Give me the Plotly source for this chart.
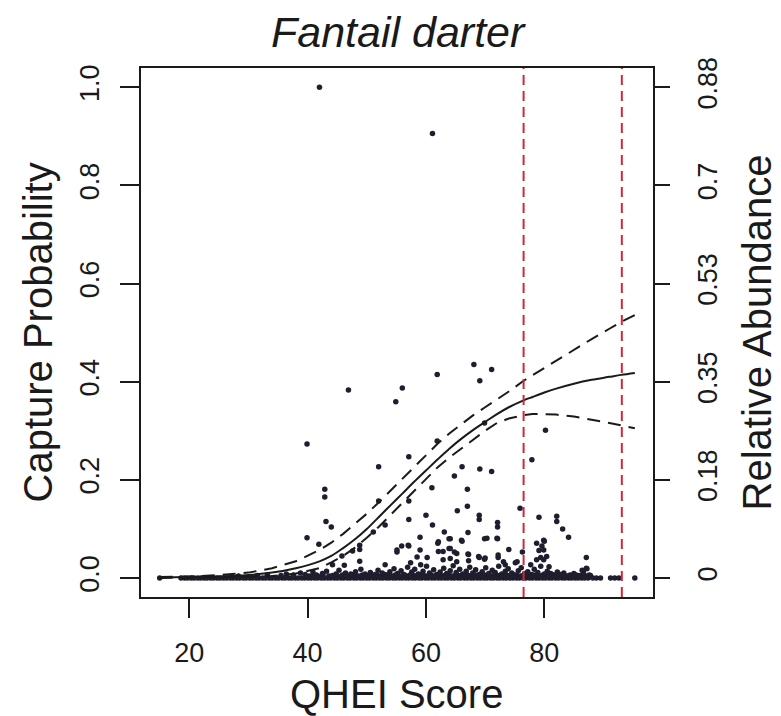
import plotly.graph_objects as go

# ---------------- data ----------------
title_text = "Fantail darter"
x_ticks = [20, 40, 60, 80]
y_ticks = [0.0, 0.2, 0.4, 0.6, 0.8, 1.0]
y_tick_labels = ["0.0", "0.2", "0.4", "0.6", "0.8", "1.0"]
ra_tick_labels = ["0", "0.18", "0.35", "0.53", "0.7", "0.88"]
threshold_lines = [76.5, 93.1]

# sites with zero abundance (baseline)
zero_x = [15.0, 18.6, 19.2, 19.7, 20.3, 20.8, 21.4, 21.9, 22.5, 23.0, 23.6, 24.1, 24.7,
          25.2, 25.8, 26.3, 26.9, 27.4, 28.0, 28.5, 29.1, 29.6, 30.2, 30.7, 31.3, 31.8,
          32.4, 32.9, 33.5, 34.0, 34.6, 35.1, 35.7, 36.2, 36.8, 37.3, 37.9, 38.4, 39.0,
          39.5, 40.1, 40.6, 41.2, 41.7, 42.3, 42.8, 43.4, 43.9, 44.5, 45.0, 45.6, 46.1,
          46.7, 47.2, 47.8, 48.3, 48.9, 49.4, 50.0, 50.5, 51.1, 51.6, 52.2, 52.7, 53.3,
          53.8, 54.4, 54.9, 55.5, 56.0, 56.6, 57.1, 57.7, 58.2, 58.8, 59.3, 59.9, 60.4,
          61.0, 61.5, 62.1, 62.6, 63.2, 63.7, 64.3, 64.8, 65.4, 65.9, 66.5, 67.0, 67.6,
          68.1, 68.7, 69.2, 69.8, 70.3, 70.9, 71.4, 72.0, 72.5, 73.1, 73.6, 74.2, 74.7,
          75.3, 75.8, 76.4, 76.9, 77.5, 78.0, 78.6, 79.1, 79.7, 80.2, 80.8, 81.3, 81.9,
          82.4, 83.0, 83.5, 84.1, 84.6, 85.2, 85.7, 86.3, 86.8, 87.4, 88.2, 88.8, 89.5,
          91.2, 91.9, 92.6, 95.3]

# sites with non-zero abundance (plotted on the capture-probability scale)
pt_x = [42.0, 61.1, 46.9, 56.0, 54.9, 39.9, 61.9, 68.1, 71.1, 69.1, 69.9, 80.2, 77.9,
        61.9, 57.1, 52.0, 42.9, 42.9, 43.1, 44.0, 39.9, 41.9, 64.8, 66.1, 69.1, 71.1,
        61.0, 67.0, 52.0, 57.1, 67.0, 65.3, 75.9, 79.1, 82.1, 82.1, 83.1, 84.1, 87.1,
        60.0, 61.1, 57.1, 53.1, 51.1, 63.1, 69.0, 69.0, 72.1, 72.1, 67.1, 59.0, 63.9,
        66.1, 69.9, 72.1, 80.0, 79.6, 48.8, 48.8, 47.6, 45.8, 55.9, 57.1, 62.0, 63.9,
        64.8, 67.1, 74.0, 76.3, 79.1, 79.4, 55.1, 58.5, 60.2, 69.0, 69.9, 72.2, 44.2,
        48.8, 46.2, 53.1, 57.4, 59.1, 73.4, 75.1, 77.7, 80.8, 87.1,
        64.1, 64.1, 64.1, 66.0, 70.3, 72.0, 79.9, 79.9, 79.9, 78.7, 57.0, 55.1, 59.0,
        62.1, 62.1, 62.9, 62.9, 65.2, 65.2, 67.2, 67.2, 68.9, 70.0, 72.2, 73.1, 75.4,
        78.7, 80.4, 87.2, 86.4,
        28.3, 31.5, 33.2, 35.5, 36.4, 37.6, 38.8, 39.6, 40.9, 41.5, 42.5, 43.2, 44.8,
        45.3, 46.4, 47.5, 48.1, 49.0, 49.7, 50.6, 51.4, 51.9, 52.6, 53.4, 53.9, 54.6,
        55.2, 55.8, 56.3, 56.9, 57.6, 58.1, 58.7, 59.5, 60.1, 60.6, 61.3, 61.8, 62.4,
        63.0, 63.5, 64.1, 64.6, 65.1, 65.7, 66.2, 66.8, 67.4, 67.9, 68.4, 69.0, 69.5,
        70.1, 70.6, 71.2, 71.7, 72.3, 72.8, 73.4, 73.9, 74.5, 75.0, 75.6, 76.1, 76.7,
        77.2, 77.8, 78.3, 78.9, 79.4, 80.0, 80.5, 81.1, 81.6, 82.2, 82.7, 83.3, 84.4,
        85.0, 85.9, 86.6, 87.6]
pt_y = [1.000, 0.906, 0.383, 0.387, 0.359, 0.273, 0.415, 0.435, 0.425, 0.402, 0.316,
        0.301, 0.241, 0.279, 0.247, 0.227, 0.181, 0.165, 0.115, 0.104, 0.082, 0.069,
        0.208, 0.227, 0.222, 0.217, 0.184, 0.181, 0.157, 0.157, 0.146, 0.137, 0.142,
        0.124, 0.126, 0.115, 0.100, 0.083, 0.042, 0.128, 0.108, 0.119, 0.108, 0.094,
        0.094, 0.128, 0.119, 0.113, 0.104, 0.093, 0.083, 0.080, 0.075, 0.080, 0.080,
        0.075, 0.065, 0.067, 0.058, 0.055, 0.045, 0.065, 0.065, 0.071, 0.060, 0.053,
        0.049, 0.058, 0.053, 0.056, 0.042, 0.053, 0.043, 0.042, 0.042, 0.038, 0.042,
        0.027, 0.034, 0.026, 0.027, 0.031, 0.027, 0.027, 0.031, 0.027, 0.023, 0.020,
        0.080, 0.060, 0.040, 0.077, 0.081, 0.081, 0.077, 0.057, 0.037, 0.071, 0.067,
        0.057, 0.057, 0.074, 0.054, 0.054, 0.037, 0.050, 0.033, 0.048, 0.035, 0.044,
        0.041, 0.047, 0.033, 0.033, 0.037, 0.044, 0.019, 0.016,
        0.004, 0.005, 0.006, 0.005, 0.008, 0.006, 0.010, 0.007, 0.012, 0.006, 0.009,
        0.014, 0.008, 0.016, 0.010, 0.006, 0.013, 0.018, 0.008, 0.011, 0.007, 0.016,
        0.010, 0.006, 0.013, 0.019, 0.009, 0.015, 0.007, 0.022, 0.012, 0.018, 0.008,
        0.014, 0.024, 0.010, 0.017, 0.007, 0.012, 0.020, 0.009, 0.015, 0.025, 0.011,
        0.018, 0.008, 0.014, 0.022, 0.010, 0.017, 0.007, 0.013, 0.021, 0.009, 0.016,
        0.011, 0.024, 0.008, 0.014, 0.019, 0.010, 0.006, 0.015, 0.021, 0.009, 0.013,
        0.007, 0.018, 0.011, 0.024, 0.008, 0.014, 0.009, 0.006, 0.012, 0.007, 0.010,
        0.006, 0.009, 0.005, 0.011, 0.006]

# very small abundances that thicken the band just above zero
low_x = [40.3, 41.0, 41.8, 42.6, 43.6, 44.2, 45.1, 45.9, 46.8, 47.3, 47.9, 48.6, 49.2,
         50.2, 50.8, 51.7, 52.4, 53.0, 53.6, 54.2, 54.8, 55.4, 56.1, 56.7, 57.3, 57.9,
         58.4, 59.0, 59.7, 60.3, 60.9, 61.6, 62.2, 62.8, 63.3, 63.9, 64.4, 65.0, 65.5,
         66.1, 66.6, 67.2, 67.7, 68.3, 68.8, 69.4, 69.9, 70.5, 71.0, 71.6, 72.1, 72.7,
         73.2, 73.8, 74.3, 74.9, 75.4, 76.0, 76.5, 77.1, 77.6, 78.2, 78.7, 79.3, 79.8,
         80.4, 80.9, 81.5, 82.0, 82.6, 83.1, 83.7, 84.2, 84.8, 85.4, 86.0, 86.5, 87.1,
         87.8]
low_y = [0.004, 0.005, 0.003, 0.006, 0.004, 0.005, 0.004, 0.006, 0.004, 0.008, 0.005,
         0.004, 0.006, 0.005, 0.004, 0.006, 0.004, 0.007, 0.005, 0.004, 0.006, 0.004,
         0.005, 0.004, 0.006, 0.005, 0.004, 0.006, 0.005, 0.004, 0.006, 0.004, 0.005,
         0.004, 0.006, 0.005, 0.004, 0.006, 0.005, 0.004, 0.006, 0.005, 0.004, 0.006,
         0.005, 0.004, 0.006, 0.005, 0.004, 0.006, 0.005, 0.004, 0.006, 0.005, 0.004,
         0.006, 0.005, 0.004, 0.006, 0.005, 0.004, 0.006, 0.005, 0.004, 0.006, 0.005,
         0.004, 0.006, 0.005, 0.004, 0.006, 0.004, 0.005, 0.004, 0.006, 0.004, 0.005,
         0.004, 0.005]

# fitted capture probability and its confidence band
fit_x = [15, 20, 25, 30, 34, 38, 42, 44, 46, 48, 50, 52, 54, 56, 58, 60, 62, 64, 66,
         68, 70, 72, 74, 76.5, 78, 80, 82, 85, 88, 91, 93, 95.3]
fit_y = [0.001, 0.002, 0.003, 0.006, 0.011, 0.020, 0.034, 0.045, 0.061, 0.079, 0.100,
         0.124, 0.148, 0.172, 0.196, 0.219, 0.242, 0.264, 0.284, 0.302, 0.318, 0.334,
         0.348, 0.362, 0.369, 0.378, 0.386, 0.396, 0.404, 0.410, 0.414, 0.418]
ci_hi = [0.002, 0.003, 0.006, 0.011, 0.020, 0.034, 0.057, 0.072, 0.090, 0.110, 0.131,
         0.154, 0.178, 0.203, 0.228, 0.252, 0.274, 0.295, 0.314, 0.332, 0.348, 0.364,
         0.380, 0.402, 0.413, 0.429, 0.444, 0.466, 0.487, 0.508, 0.522, 0.536]
ci_lo = [0.000, 0.001, 0.001, 0.002, 0.004, 0.009, 0.020, 0.032, 0.045, 0.062, 0.082,
         0.104, 0.128, 0.152, 0.178, 0.202, 0.226, 0.246, 0.264, 0.282, 0.300, 0.316,
         0.325, 0.332, 0.334, 0.334, 0.333, 0.329, 0.323, 0.316, 0.311, 0.305]

# ---------------- figure ----------------
FONT = "Liberation Sans, Arial, sans-serif"
INK = "#1a1a1a"
DOT = "#1e1e2e"

fig = go.Figure()

fig.add_trace(go.Scatter(x=zero_x, y=[0.0] * len(zero_x), mode="markers",
                         marker=dict(size=5.5, color=DOT), hoverinfo="skip", showlegend=False))
fig.add_trace(go.Scatter(x=low_x, y=low_y, mode="markers",
                         marker=dict(size=5.5, color=DOT), hoverinfo="skip", showlegend=False))
fig.add_trace(go.Scatter(x=pt_x, y=pt_y, mode="markers",
                         marker=dict(size=5.5, color=DOT), hoverinfo="skip", showlegend=False))
fig.add_trace(go.Scatter(x=fit_x, y=ci_hi, mode="lines",
                         line=dict(color=INK, width=2, dash="13px,8px"),
                         hoverinfo="skip", showlegend=False))
fig.add_trace(go.Scatter(x=fit_x, y=ci_lo, mode="lines",
                         line=dict(color=INK, width=2, dash="13px,8px"),
                         hoverinfo="skip", showlegend=False))
fig.add_trace(go.Scatter(x=fit_x, y=fit_y, mode="lines",
                         line=dict(color=INK, width=2, shape="spline"),
                         hoverinfo="skip", showlegend=False))
# invisible trace to activate the right-hand axis
fig.add_trace(go.Scatter(x=[fit_x[0]], y=[0.0], yaxis="y2", mode="markers",
                         marker=dict(size=1, opacity=0), hoverinfo="skip", showlegend=False))

for xv in threshold_lines:
    fig.add_shape(type="line", x0=xv, x1=xv, y0=0, y1=1, xref="x", yref="paper",
                  line=dict(color="#d0283a", width=2, dash="10px,6px"))

axis_common = dict(showgrid=False, zeroline=False, showline=True, linecolor=INK,
                   linewidth=2, ticks="outside", tickwidth=2, tickcolor=INK,
                   tickfont=dict(family=FONT, size=27, color=INK))

# the page body has an 8 px margin, so the figure is 8 px smaller than the window
fig.update_layout(
    width=773, height=708, autosize=False,
    margin=dict(l=133, r=128, t=60, b=119, pad=0),
    paper_bgcolor="white", plot_bgcolor="white",
    xaxis=dict(range=[11.84, 98.37], tickvals=x_ticks, ticklen=19, mirror=True,
               ticklabelstandoff=12, **axis_common),
    yaxis=dict(range=[-0.0387, 1.0394], tickvals=y_ticks, ticktext=y_tick_labels,
               ticklen=19, tickangle=-90, mirror=True, ticklabelstandoff=10,
               **axis_common),
    yaxis2=dict(range=[-0.0387, 1.0394], tickvals=y_ticks, ticktext=ra_tick_labels,
                overlaying="y", side="right", ticklen=15, tickangle=-90,
                ticklabelstandoff=15, **axis_common),
)

def ann(text, x, y, size, angle=0, italic=False, yanchor="middle"):
    fig.add_annotation(text=f"<i>{text}</i>" if italic else text, x=x, y=y,
                       xref="paper", yref="paper", showarrow=False, textangle=angle,
                       xanchor="center", yanchor=yanchor,
                       font=dict(family=FONT, size=size, color=INK))

ann(title_text, 0.503, 1.118, 43, italic=True, yanchor="top")
ann("QHEI Score", 0.499, -0.1834, 40)
ann("Capture Probability", -0.2012, 0.5, 40, angle=-90)
ann("Relative Abundance", 1.203, 0.5, 40, angle=-90)

fig.write_html("out.html")
